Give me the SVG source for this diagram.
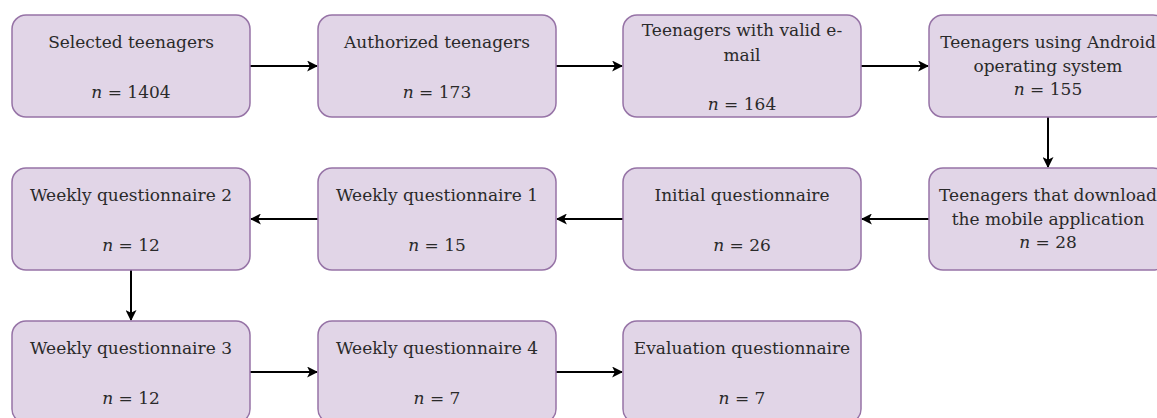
<svg xmlns="http://www.w3.org/2000/svg" width="1157" height="418" viewBox="0 0 1157 418">
<defs>
<style>
.box{fill:#e1d5e7;stroke:#9673a6;stroke-width:1.5}
.t{font-family:"DejaVu Serif","Liberation Serif",serif;font-size:17px;fill:#2a2a2a;text-anchor:middle}
.n{font-style:italic}
.c{stroke:#000;stroke-width:2;fill:none;marker-end:url(#ah)}
</style>
<marker id="ah" viewBox="0 0 10 10" refX="9" refY="5" markerWidth="11" markerHeight="11" markerUnits="userSpaceOnUse" orient="auto">
<path d="M0,0 L10,5 L0,10 L2.5,5 Z" fill="#000"/>
</marker>
</defs>
<rect width="1157" height="418" fill="#fff"/>
<g id="connectors">
<line class="c" x1="250" y1="66" x2="317" y2="66"/>
<line class="c" x1="556" y1="66" x2="622" y2="66"/>
<line class="c" x1="861" y1="66" x2="928" y2="66"/>
<line class="c" x1="1048" y1="117" x2="1048" y2="167"/>
<line class="c" x1="929" y1="219" x2="862" y2="219"/>
<line class="c" x1="623" y1="219" x2="557" y2="219"/>
<line class="c" x1="318" y1="219" x2="251" y2="219"/>
<line class="c" x1="131" y1="270" x2="131" y2="320"/>
<line class="c" x1="250" y1="372" x2="317" y2="372"/>
<line class="c" x1="556" y1="372" x2="622" y2="372"/>
</g>
<g id="n1"><rect class="box" x="12" y="15" width="238" height="102" rx="14"/>
<text class="t" x="131" y="48">Selected teenagers</text>
<text class="t" x="131" y="98"><tspan class="n">n</tspan> = 1404</text></g>
<g id="n2"><rect class="box" x="318" y="15" width="238" height="102" rx="14"/>
<text class="t" x="437" y="48">Authorized teenagers</text>
<text class="t" x="437" y="98"><tspan class="n">n</tspan> = 173</text></g>
<g id="n3"><rect class="box" x="623" y="15" width="238" height="102" rx="14"/>
<text class="t" x="742" y="36">Teenagers with valid e-</text>
<text class="t" x="742" y="61">mail</text>
<text class="t" x="742" y="110"><tspan class="n">n</tspan> = 164</text></g>
<g id="n4"><rect class="box" x="929" y="15" width="238" height="102" rx="14"/>
<text class="t" x="1048" y="48">Teenagers using Android</text>
<text class="t" x="1048" y="72">operating system</text>
<text class="t" x="1048" y="95"><tspan class="n">n</tspan> = 155</text></g>
<g id="n5"><rect class="box" x="929" y="168" width="238" height="102" rx="14"/>
<text class="t" x="1048" y="201">Teenagers that download</text>
<text class="t" x="1048" y="225">the mobile application</text>
<text class="t" x="1048" y="248"><tspan class="n">n</tspan> = 28</text></g>
<g id="n6"><rect class="box" x="623" y="168" width="238" height="102" rx="14"/>
<text class="t" x="742" y="201">Initial questionnaire</text>
<text class="t" x="742" y="251"><tspan class="n">n</tspan> = 26</text></g>
<g id="n7"><rect class="box" x="318" y="168" width="238" height="102" rx="14"/>
<text class="t" x="437" y="201">Weekly questionnaire 1</text>
<text class="t" x="437" y="251"><tspan class="n">n</tspan> = 15</text></g>
<g id="n8"><rect class="box" x="12" y="168" width="238" height="102" rx="14"/>
<text class="t" x="131" y="201">Weekly questionnaire 2</text>
<text class="t" x="131" y="251"><tspan class="n">n</tspan> = 12</text></g>
<g id="n9"><rect class="box" x="12" y="321" width="238" height="102" rx="14"/>
<text class="t" x="131" y="354">Weekly questionnaire 3</text>
<text class="t" x="131" y="404"><tspan class="n">n</tspan> = 12</text></g>
<g id="n10"><rect class="box" x="318" y="321" width="238" height="102" rx="14"/>
<text class="t" x="437" y="354">Weekly questionnaire 4</text>
<text class="t" x="437" y="404"><tspan class="n">n</tspan> = 7</text></g>
<g id="n11"><rect class="box" x="623" y="321" width="238" height="102" rx="14"/>
<text class="t" x="742" y="354">Evaluation questionnaire</text>
<text class="t" x="742" y="404"><tspan class="n">n</tspan> = 7</text></g>
</svg>
